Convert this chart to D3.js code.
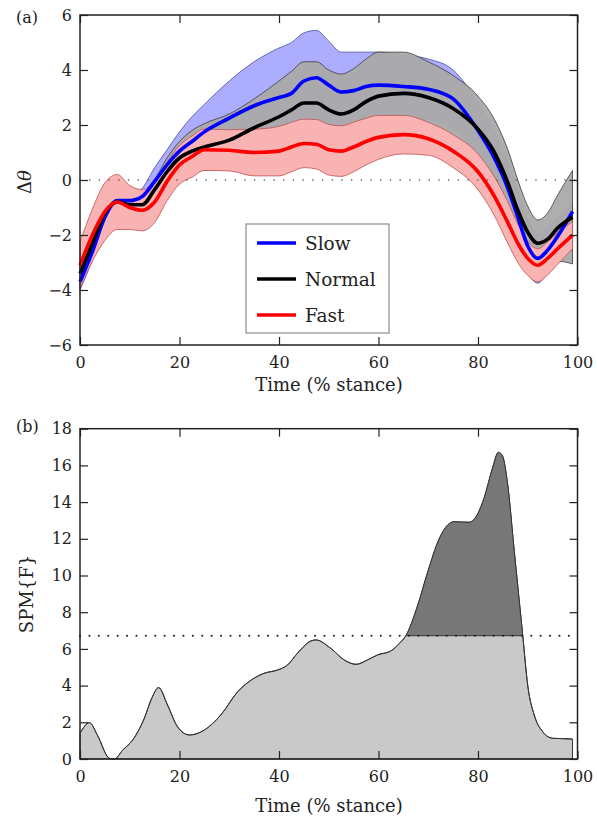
<!DOCTYPE html>
<html>
<head>
<meta charset="utf-8">
<script src="https://cdn.jsdelivr.net/npm/d3@7"></script>
<style>
body { margin: 0; background: #fff; }
text { font-family: "DejaVu Serif", serif; fill: #222; }
</style>
</head>
<body>
<script>
// (a) joint angle change vs stance, mean and SD per walking speed
var stance = [0, 2.5, 5, 7.5, 10, 12.5, 15, 17.5, 20, 22.5, 25, 30, 35, 40, 42.5, 45, 47.5, 50, 52.5, 55, 57.5, 60, 65, 70, 75, 80, 83, 86, 88, 90, 92, 94, 96, 99];

var slowMean = [-3.7, -2.6, -1.35, -0.75, -0.75, -0.6, -0.05, 0.55, 1.05, 1.4, 1.75, 2.25, 2.7, 3.0, 3.15, 3.6, 3.72, 3.45, 3.2, 3.25, 3.4, 3.45, 3.4, 3.3, 2.95, 1.8, 0.9, -0.3, -1.35, -2.4, -2.85, -2.55, -2.05, -1.15];
var slowSD = [0.3, 0.3, 0.25, 0.2, 0.2, 0.3, 0.5, 0.55, 0.7, 0.9, 1.0, 1.35, 1.6, 1.8, 1.85, 1.75, 1.72, 1.6, 1.45, 1.4, 1.25, 1.2, 1.15, 1.1, 1.05, 1.0, 0.95, 0.95, 0.95, 0.95, 0.9, 0.8, 0.65, 0.3];

var normalMean = [-3.4, -2.3, -1.2, -0.8, -0.9, -0.9, -0.35, 0.3, 0.8, 1.05, 1.2, 1.45, 1.9, 2.3, 2.55, 2.8, 2.8, 2.55, 2.4, 2.55, 2.85, 3.05, 3.15, 3.0, 2.6, 1.85, 1.1, -0.1, -1.1, -1.9, -2.3, -2.15, -1.75, -1.35];
var normalSD = [0.3, 0.3, 0.25, 0.2, 0.2, 0.25, 0.35, 0.5, 0.6, 0.75, 0.85, 0.95, 1.05, 1.3, 1.4, 1.5, 1.5, 1.45, 1.45, 1.5, 1.55, 1.6, 1.5, 1.3, 1.2, 1.2, 1.2, 1.2, 1.1, 0.95, 0.85, 0.95, 1.2, 1.7];

var fastMean = [-3.1, -2.0, -1.15, -0.8, -1.0, -1.1, -0.8, -0.05, 0.55, 0.85, 1.1, 1.08, 1.0, 1.05, 1.2, 1.33, 1.3, 1.1, 1.05, 1.2, 1.4, 1.55, 1.65, 1.5, 1.05, 0.3, -0.5, -1.55, -2.3, -2.85, -3.1, -2.85, -2.5, -2.0];
var fastSD = [0.85, 0.95, 1.05, 1.0, 0.8, 0.75, 0.75, 0.7, 0.7, 0.75, 0.75, 0.75, 0.85, 0.9, 0.9, 0.88, 0.9, 0.92, 0.92, 0.9, 0.85, 0.8, 0.7, 0.6, 0.6, 0.65, 0.7, 0.75, 0.7, 0.62, 0.6, 0.6, 0.57, 0.5];

var speedNames = ["Slow", "Normal", "Fast"];

// (b) SPM{F} trajectory and critical threshold
var spmTime = [0, 1.9, 3.5, 5.9, 6.9, 8.6, 10.6, 12.9, 14.4, 15.8, 17.6, 19.6, 22, 25, 28.3, 31.7, 34.4, 37, 39.7, 41.7, 43.7, 46.4, 47.4, 50.4, 53.1, 55.5, 57.8, 59.8, 62.5, 64.2, 65.5, 67.9, 69.9, 72.2, 73.9, 75.2, 78.2, 79.6, 81.2, 82.9, 84.1, 84.9, 85.9, 87.3, 89, 90, 91.3, 93, 95, 98.7, 99];
var spmF = [1.4, 1.98, 1.3, 0.04, 0, 0.49, 1.04, 2.2, 3.3, 3.89, 2.94, 1.76, 1.31, 1.58, 2.4, 3.67, 4.3, 4.67, 4.85, 5.12, 5.76, 6.43, 6.49, 6.03, 5.4, 5.16, 5.4, 5.67, 5.89, 6.3, 6.72, 8.39, 10.2, 12.0, 12.75, 12.93, 12.9, 13.2, 14.2, 15.84, 16.71, 16.53, 15.1, 11.3, 6.72, 4.0, 2.4, 1.49, 1.13, 1.09, 1.08];
var spmThreshold = 6.72;

var timeTicks = [0, 20, 40, 60, 80, 100];
var thetaTicks = [-6, -4, -2, 0, 2, 4, 6];
var spmTicks = [0, 2, 4, 6, 8, 10, 12, 14, 16, 18];

var svg = d3.select("body").append("svg")
    .attr("width", 597)
    .attr("height", 818);

var x = d3.scaleLinear().domain([0, 100]).range([80, 577.5]);
var yA = d3.scaleLinear().domain([-6, 6]).range([345, 15]);
var yB = d3.scaleLinear().domain([0, 18]).range([759, 428.7]);

function drawAxes(y, ticks) {
    var g = svg.append("g");
    var r = y.range();
    g.append("g").attr("transform", "translate(0," + r[0] + ")")
        .call(d3.axisBottom(x).tickValues(timeTicks).tickSize(-8).tickPadding(12).tickFormat(d3.format("d")));
    g.append("g").attr("transform", "translate(0," + r[1] + ")")
        .call(d3.axisTop(x).tickValues(timeTicks).tickSize(-8).tickFormat(""));
    g.append("g").attr("transform", "translate(" + x(0) + ",0)")
        .call(d3.axisLeft(y).tickValues(ticks).tickSize(-8).tickPadding(8).tickFormat(d3.format("d")));
    g.append("g").attr("transform", "translate(" + x(100) + ",0)")
        .call(d3.axisRight(y).tickValues(ticks).tickSize(-8).tickFormat(""));
    g.selectAll(".domain").remove();
    g.selectAll(".tick line").attr("stroke", "#222").attr("stroke-width", 1.2);
    g.selectAll(".tick text").attr("font-size", "16px").attr("font-family", "DejaVu Serif").attr("fill", "#222");
    g.append("rect")
        .attr("x", x(0)).attr("y", r[1])
        .attr("width", x(100) - x(0)).attr("height", r[0] - r[1])
        .attr("fill", "none").attr("stroke", "#222").attr("stroke-width", 1.5);
}

// ---------- panel (a) ----------
var series = [
    {mean: slowMean, sd: slowSD, line: "#0000ff", band: "#0000ff", bandOpacity: 0.32, edge: "#4a4aa0"},
    {mean: normalMean, sd: normalSD, line: "#000000", band: "#aaaaaa", bandOpacity: 0.95, edge: "#3a3a3a"},
    {mean: fastMean, sd: fastSD, line: "#ff0000", band: "#f9b3b3", bandOpacity: 1, edge: "#c05050"}
];

var band = d3.area()
    .x(function(d) { return x(d.t); })
    .y0(function(d) { return yA(d.m - d.s); })
    .y1(function(d) { return yA(d.m + d.s); })
    .curve(d3.curveMonotoneX);

var meanLine = d3.line()
    .x(function(d) { return x(d.t); })
    .y(function(d) { return yA(d.m); })
    .curve(d3.curveMonotoneX);

series.forEach(function(s) {
    s.rows = stance.map(function(t, i) { return {t: t, m: s.mean[i], s: s.sd[i]}; });
});

series.forEach(function(s) {
    svg.append("path")
        .datum(s.rows)
        .attr("d", band)
        .attr("fill", s.band)
        .attr("fill-opacity", s.bandOpacity)
        .attr("stroke", s.edge)
        .attr("stroke-width", 0.8);
});

svg.append("line")
    .attr("x1", x(0)).attr("x2", x(100))
    .attr("y1", yA(0)).attr("y2", yA(0))
    .attr("stroke", "#555")
    .attr("stroke-width", 1.6)
    .attr("stroke-linecap", "round")
    .attr("stroke-dasharray", "0.1,9.6");

series.forEach(function(s) {
    svg.append("path")
        .datum(s.rows)
        .attr("d", meanLine)
        .attr("fill", "none")
        .attr("stroke", s.line)
        .attr("stroke-width", 3.6);
});

drawAxes(yA, thetaTicks);

// legend
var legend = svg.append("g").attr("transform", "translate(246,224)");
legend.append("rect")
    .attr("width", 143).attr("height", 109)
    .attr("fill", "#fff").attr("stroke", "#777").attr("stroke-width", 1);
speedNames.forEach(function(name, i) {
    var yy = 19 + i * 36;
    legend.append("line")
        .attr("x1", 11).attr("x2", 50)
        .attr("y1", yy).attr("y2", yy)
        .attr("stroke", series[i].line)
        .attr("stroke-width", 3.6);
    legend.append("text")
        .attr("x", 59).attr("y", yy + 6.5)
        .attr("font-size", "18.5px")
        .text(name);
});

// labels
svg.append("text").attr("x", 16).attr("y", 23).attr("font-size", "16px").text("(a)");
svg.append("text")
    .attr("transform", "translate(31,182)rotate(-90)")
    .attr("text-anchor", "middle")
    .attr("font-size", "18px")
    .text("Δ")
    .append("tspan").attr("font-style", "italic").text("θ");
svg.append("text")
    .attr("x", 329).attr("y", 391)
    .attr("text-anchor", "middle")
    .attr("font-size", "18px")
    .text("Time (% stance)");

// ---------- panel (b) ----------
var spmRows = spmTime.map(function(t, i) { return {t: t, f: spmF[i]}; });

var spmArea = d3.area()
    .x(function(d) { return x(d.t); })
    .y0(yB(0))
    .y1(function(d) { return yB(d.f); })
    .curve(d3.curveMonotoneX);

var spmLine = d3.line()
    .x(function(d) { return x(d.t); })
    .y(function(d) { return yB(d.f); })
    .curve(d3.curveMonotoneX);

svg.append("path")
    .datum(spmRows)
    .attr("d", spmArea)
    .attr("fill", "#c9c9c9")
    .attr("stroke", "#333")
    .attr("stroke-width", 1);

// supra-threshold cluster
svg.append("clipPath").attr("id", "aboveThreshold")
    .append("rect")
    .attr("x", x(0)).attr("y", yB(18))
    .attr("width", x(100) - x(0))
    .attr("height", yB(spmThreshold) - yB(18));

svg.append("path")
    .datum(spmRows)
    .attr("d", spmArea)
    .attr("clip-path", "url(#aboveThreshold)")
    .attr("fill", "#777");

svg.append("path")
    .datum(spmRows)
    .attr("d", spmLine)
    .attr("fill", "none")
    .attr("stroke", "#333")
    .attr("stroke-width", 1);

var above = spmRows.filter(function(d) { return d.f >= spmThreshold; });
svg.append("line")
    .attr("x1", x(above[0].t)).attr("x2", x(above[above.length - 1].t))
    .attr("y1", yB(spmThreshold)).attr("y2", yB(spmThreshold))
    .attr("stroke", "#333").attr("stroke-width", 1);

svg.append("line")
    .attr("x1", x(0)).attr("x2", x(100))
    .attr("y1", yB(spmThreshold)).attr("y2", yB(spmThreshold))
    .attr("stroke", "#222")
    .attr("stroke-width", 2)
    .attr("stroke-linecap", "round")
    .attr("stroke-dasharray", "0.1,9.3");

drawAxes(yB, spmTicks);

svg.append("text").attr("x", 16).attr("y", 432).attr("font-size", "16px").text("(b)");
svg.append("text")
    .attr("transform", "translate(33,594)rotate(-90)")
    .attr("text-anchor", "middle")
    .attr("font-size", "18px")
    .text("SPM{F}");
svg.append("text")
    .attr("x", 329).attr("y", 812)
    .attr("text-anchor", "middle")
    .attr("font-size", "18px")
    .text("Time (% stance)");
</script>
</body>
</html>
